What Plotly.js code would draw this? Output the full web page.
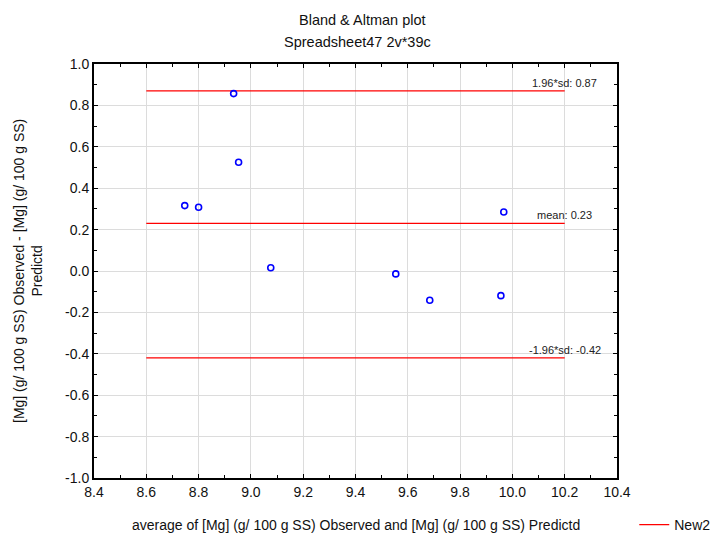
<!DOCTYPE html>
<html>
<head>
<meta charset="utf-8">
<script src="https://cdn.plot.ly/plotly-3.0.1.min.js"></script>
<style>html,body{margin:0;padding:0;background:#fff;}#chart{width:714px;height:538px;}</style>
</head>
<body>
<div id="chart"></div>
<script>
// Data
const avgValues = [8.747, 8.800, 8.934, 8.953, 9.076, 9.554, 9.684, 9.956, 9.967];
const diffValues = [0.316, 0.308, 0.857, 0.525, 0.016, -0.014, -0.141, -0.119, 0.285];
const limitLabels = ["1.96*sd: 0.87", "mean: 0.23", "-1.96*sd: -0.42"];
const limitValues = [0.87, 0.23, -0.42];
const limitXRange = [8.6, 10.2];
const xTickVals = [8.4, 8.6, 8.8, 9.0, 9.2, 9.4, 9.6, 9.8, 10.0, 10.2, 10.4];
const yTickVals = [-1.0, -0.8, -0.6, -0.4, -0.2, 0.0, 0.2, 0.4, 0.6, 0.8, 1.0];
const legendName = "New2";

// Build the limit lines from the arrays
const lx = [], ly = [];
limitValues.forEach(v => {
  lx.push(limitXRange[0], limitXRange[1], null);
  ly.push(v, v, null);
});

const font = "Arial, 'Liberation Sans', sans-serif";

const traces = [
  {
    x: lx, y: ly, type: 'scatter', mode: 'lines', name: legendName,
    line: {color: '#ff0000', width: 1.3}, showlegend: true, hoverinfo: 'skip'
  },
  {
    x: avgValues, y: diffValues, type: 'scatter', mode: 'markers',
    marker: {symbol: 'circle-open', size: 6, color: '#0000ff', line: {width: 1.6, color: '#0000ff'}},
    showlegend: false
  }
];

const annotations = limitLabels.map((t, i) => ({
  x: limitXRange[1], y: limitValues[i], xref: 'x', yref: 'y',
  text: t, showarrow: false, xanchor: 'center', yanchor: 'bottom',
  font: {family: font, size: 11, color: '#222'}, yshift: 0
}));

annotations.push({
  xref: 'paper', yref: 'paper', x: 0.5, y: 0, yshift: -47,
  xanchor: 'center', yanchor: 'middle', showarrow: false,
  text: 'average of [Mg] (g/ 100 g SS) Observed and [Mg] (g/ 100 g SS) Predictd',
  font: {family: font, size: 14, color: '#111'}
});
annotations.push({
  xref: 'paper', yref: 'paper', x: 0, xshift: -66, y: 0.5,
  xanchor: 'center', yanchor: 'middle', showarrow: false, textangle: -90,
  text: '[Mg] (g/ 100 g SS) Observed - [Mg] (g/ 100 g SS)<br>Predictd',
  font: {family: font, size: 14, color: '#111'}
});
annotations.push({
  xref: 'paper', yref: 'paper', x: 0.513, y: 1, yshift: 44,
  xanchor: 'center', yanchor: 'middle', showarrow: false,
  text: 'Bland & Altman plot',
  font: {family: font, size: 14.5, color: '#111'}
});
annotations.push({
  xref: 'paper', yref: 'paper', x: 0.503, y: 1, yshift: 22,
  xanchor: 'center', yanchor: 'middle', showarrow: false,
  text: 'Spreadsheet47 2v*39c',
  font: {family: font, size: 14.5, color: '#111'}
});

const axisCommon = {
  showline: true, linecolor: '#000', linewidth: 2, mirror: 'allticks',
  ticks: 'inside', ticklen: 4, tickcolor: '#000', tickwidth: 1,
  showgrid: true, gridcolor: '#dcdcdc', gridwidth: 1, zeroline: false,
  tickfont: {family: font, size: 14, color: '#111'},
  minor: {ticks: 'inside', ticklen: 3, tickcolor: '#000', showgrid: false}
};

const layout = {
  width: 714, height: 538,
  margin: {l: 94, r: 97, t: 64, b: 60, autoexpand: false},
  paper_bgcolor: '#fff', plot_bgcolor: '#fff',
  xaxis: Object.assign({}, axisCommon, {
    range: [8.4, 10.4], tickvals: xTickVals, ticktext: xTickVals.map(v => v.toFixed(1)),
    minor: Object.assign({}, axisCommon.minor, {dtick: 0.1, tick0: 8.4})
  }),
  yaxis: Object.assign({}, axisCommon, {
    range: [-1.0, 1.0], tickvals: yTickVals, ticktext: yTickVals.map(v => v.toFixed(1)),
    minor: Object.assign({}, axisCommon.minor, {dtick: 0.1, tick0: -1.0})
  }),
  showlegend: true,
  legend: {
    orientation: 'h', x: 1.033, y: -0.1135, xanchor: 'left', yanchor: 'middle',
    font: {family: font, size: 14, color: '#111'}, bgcolor: 'rgba(0,0,0,0)',
    itemwidth: 30
  },
  annotations: annotations
};

Plotly.newPlot('chart', traces, layout, {staticPlot: true, displayModeBar: false});
</script>
</body>
</html>
